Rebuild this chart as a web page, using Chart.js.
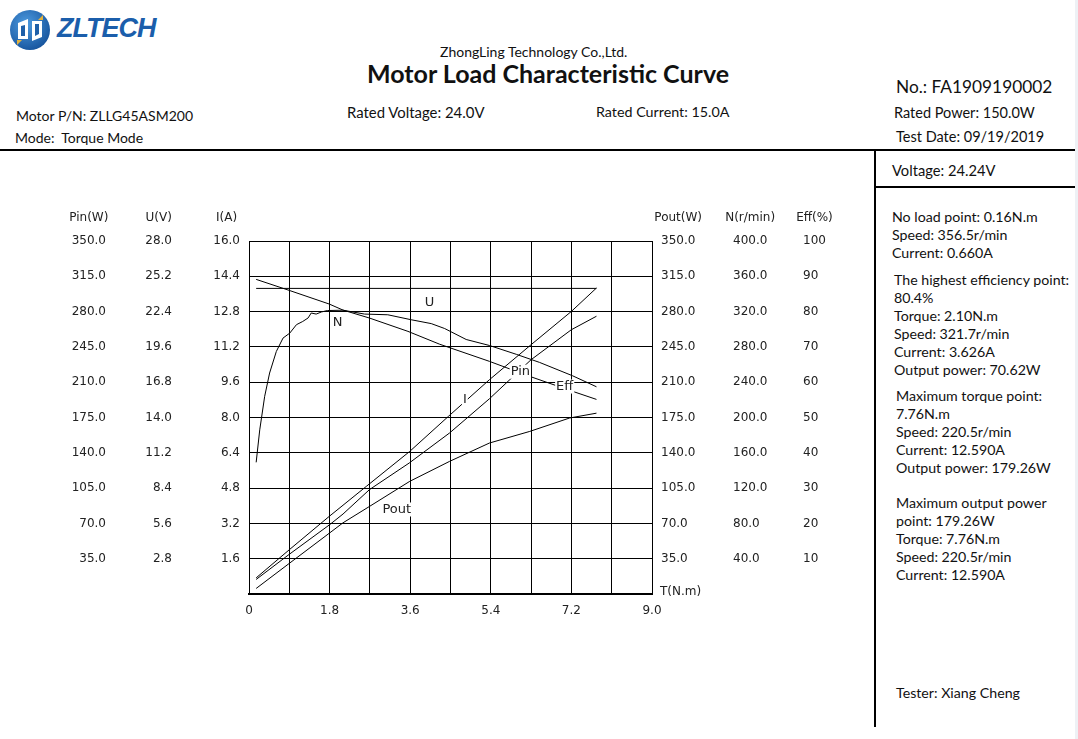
<!DOCTYPE html>
<html>
<head>
<meta charset="utf-8">
<script src="https://cdn.jsdelivr.net/npm/chart.js@4.4.1/dist/chart.umd.min.js"></script>
<style>
  html, body { margin: 0; padding: 0; background: #fff; }
  body { width: 1078px; height: 739px; position: relative; overflow: hidden; font-family: "Lato", "Open Sans", sans-serif; color: #111; }
  .t { position: absolute; white-space: pre; line-height: 18px; font-size: 14.5px; }
  .p { position: absolute; white-space: pre; line-height: 18px; font-size: 14.2px; }
  .rule { position: absolute; background: #000; }
  #chartBox { position: absolute; left: 0; top: 191px; width: 860px; height: 440px; }
</style>
</head>
<body>
<svg style="position:absolute;left:9px;top:9px" width="42" height="42" viewBox="0 0 42 42">
  <defs>
    <radialGradient id="lg" cx="40%" cy="35%" r="70%">
      <stop offset="0" stop-color="#4d9be0"/>
      <stop offset="1" stop-color="#16539c"/>
    </radialGradient>
  </defs>
  <circle cx="21" cy="21" r="20" fill="url(#lg)"/>
  <path d="M9 14 L19 10 L19 30 L9 30 Z" fill="#fff"/>
  <path d="M23 12 L33 12 L33 28 L23 32 Z" fill="#fff"/>
  <path d="M12 17 L16 16 L16 27 L12 27 Z" fill="#1e5fa8"/>
  <path d="M26 15 L30 15 L30 25 L26 27 Z" fill="#1e5fa8"/>
  <path d="M8 31 L13 31 L8 36 Z" fill="#e3b23c"/>
  <path d="M34 11 L29 11 L34 6 Z" fill="#e3b23c"/>
</svg>
<div style="position:absolute;left:57px;top:12px;font:italic bold 27px 'Liberation Sans',Arial,sans-serif;letter-spacing:-1px;color:#1b5eab;line-height:32px">ZLTECH</div>

<div class="t" style="left:440px;top:43px;font-size:14px">ZhongLing Technology Co.,Ltd.</div>
<div class="t" style="left:367px;top:59px;font-size:25px;line-height:28px;font-weight:bold">Motor Load Characteristic Curve</div>
<div class="t" style="left:896px;top:76px;font-size:17.3px;line-height:22px">No.: FA1909190002</div>
<div class="t" style="left:16px;top:107px;font-size:14px">Motor P/N: ZLLG45ASM200</div>
<div class="t" style="left:15px;top:129px;font-size:14px">Mode:  Torque Mode</div>
<div class="t" style="left:347px;top:103px;font-size:14.9px">Rated Voltage: 24.0V</div>
<div class="t" style="left:596px;top:103px;font-size:14.3px">Rated Current: 15.0A</div>
<div class="t" style="left:894px;top:104px">Rated Power: 150.0W</div>
<div class="t" style="left:896px;top:128px">Test Date: 09/19/2019</div>

<div class="rule" style="left:0;top:149px;width:1078px;height:2px"></div>
<div class="rule" style="left:874px;top:150px;width:2px;height:577px"></div>
<div class="rule" style="left:875px;top:186px;width:200px;height:2px"></div>
<div style="position:absolute;left:1075px;top:0;width:3px;height:739px;background:#eef1f5"></div>

<div class="t" style="left:892px;top:161px;font-size:14.7px">Voltage: 24.24V</div>
<div class="p" style="left:892px;top:208px">No load point: 0.16N.m
Speed: 356.5r/min
Current: 0.660A</div>
<div class="p" style="left:894px;top:271px">The highest efficiency point:
80.4%
Torque: 2.10N.m
Speed: 321.7r/min
Current: 3.626A
Output power: 70.62W</div>
<div class="p" style="left:896px;top:387px">Maximum torque point:
7.76N.m
Speed: 220.5r/min
Current: 12.590A
Output power: 179.26W</div>
<div class="p" style="left:896px;top:494px">Maximum output power
point: 179.26W
Torque: 7.76N.m
Speed: 220.5r/min
Current: 12.590A</div>
<div class="p" style="left:896px;top:684px">Tester: Xiang Cheng</div>

<div id="chartBox"><canvas id="curveChart"></canvas></div>

<script>
// torque readings (N.m) and the measured curves, read from the test sheet
const effTorque = [0.16, 0.24, 0.35, 0.46, 0.61, 0.76, 0.91, 1.06, 1.20, 1.32, 1.39, 1.50, 1.62, 1.75, 2.10, 2.58, 3.10, 3.62, 4.07, 4.37, 4.85, 5.37, 5.97, 6.49, 7.23, 7.76];
const effValues = [37.3, 46.5, 56.0, 62.6, 68.7, 72.5, 73.9, 76.3, 77.2, 78.2, 79.6, 79.3, 79.9, 80.3, 80.4, 79.3, 79.1, 77.7, 76.6, 75.2, 72.1, 70.4, 67.9, 65.6, 61.8, 58.7];

const speedTorque = [0.16, 0.90, 1.79, 2.10, 2.69, 3.55, 4.26, 5.37, 6.27, 7.23, 7.76];
const speedValues = [356.5, 344.0, 328.6, 321.7, 312.7, 297.6, 283.0, 263.6, 246.6, 229.6, 220.5];

const pinTorque = [0.16, 0.90, 1.79, 2.62, 3.59, 4.45, 5.37, 6.30, 7.20, 7.76];
const pinValues = [16.0, 43.9, 76.9, 106.7, 141.4, 176.0, 212.5, 247.2, 280.2, 303.4];

const currentTorque = [0.16, 0.90, 1.80, 2.10, 2.69, 3.58, 4.48, 5.37, 6.30, 7.20, 7.76];
const currentValues = [0.66, 1.80, 3.14, 3.626, 4.73, 5.94, 7.30, 8.85, 10.62, 11.98, 12.59];

const poutTorque = [0.16, 0.91, 1.80, 2.10, 2.69, 3.59, 4.48, 5.37, 6.27, 7.16, 7.76];
const poutValues = [5.5, 30.7, 60.5, 70.6, 86.8, 111.7, 131.5, 149.7, 161.2, 174.5, 179.3];

const voltTorque = [0.16, 7.76];
const voltValues = [24.24, 24.24];

// axis ranges (10 divisions each)
const torqueMax = 9.0;
const pinMax = 350, voltMax = 28, currentMax = 16;
const poutMax = 350, speedMax = 400, effMax = 100;

// curve names written next to the lines (torque, value on the Pin scale)
const curveLabelText = ["U", "N", "Pin", "Eff", "I", "Pout"];
const curveLabelT = [4.03, 1.98, 6.06, 7.05, 4.82, 3.30];
const curveLabelPin = [288.8, 269.0, 220.4, 205.7, 192.7, 83.8];

const axisTitles = { pin: "Pin(W)", u: "U(V)", i: "I(A)", pout: "Pout(W)", n: "N(r/min)", eff: "Eff(%)" };

const tickFont = { family: "DejaVu Sans", size: 12 };
const ink = "#222";

function pairs(xs, ys) {
  return xs.map((x, i) => ({ x: x, y: ys[i] }));
}

function curve(xs, ys, axis) {
  return {
    data: pairs(xs, ys),
    yAxisID: axis,
    borderColor: "#000",
    borderWidth: 1,
    pointRadius: 0,
    tension: 0,
    fill: false,
  };
}

function yAxis(pos, max, width, pad, decimals, withGrid) {
  return {
    type: "linear",
    position: pos,
    min: 0,
    max: max,
    grid: { display: withGrid, color: "#000", lineWidth: 1, drawTicks: false },
    border: { display: withGrid, color: "#000", width: 1 },
    ticks: {
      stepSize: max / 10,
      padding: pad,
      color: ink,
      font: tickFont,
      callback: (v) => (v === 0 ? "" : Number(v).toFixed(decimals)),
    },
    afterFit: (s) => { s.width = width; },
  };
}

const headerPlugin = {
  id: "headers",
  afterDraw(chart) {
    const c = chart.ctx;
    const area = chart.chartArea;
    c.save();
    c.fillStyle = ink;
    c.font = "12px 'DejaVu Sans'";
    c.textBaseline = "middle";
    c.textAlign = "center";
    const titleY = area.top - 23;
    ["pin", "u", "i", "pout", "n", "eff"].forEach((id) => {
      const s = chart.scales[id];
      const pad = s.options.ticks.padding;
      const sample = s.options.ticks.callback(s.max);
      const w = c.measureText(sample).width;
      const cx = s.position === "left" ? s.right - pad - w / 2 : s.left + pad + w / 2;
      c.fillText(axisTitles[id], cx, titleY);
    });
    c.textAlign = "left";
    c.fillText("T(N.m)", area.right + 8, area.bottom - 2);

    c.textAlign = "center";
    c.font = "13px 'DejaVu Sans'";
    const xs = chart.scales.x, ps = chart.scales.pin;
    curveLabelText.forEach((txt, i) => {
      const px = xs.getPixelForValue(curveLabelT[i]);
      const py = ps.getPixelForValue(curveLabelPin[i]);
      c.fillStyle = "#fff";
      const w = c.measureText(txt).width;
      c.fillRect(px - w / 2 - 1, py - 7, w + 2, 14);
      c.fillStyle = ink;
      c.fillText(txt, px, py);
    });
    c.restore();
  },
};

const ctx = document.getElementById("curveChart").getContext("2d");

const curveChart = new Chart(ctx, {
  type: "line",
  data: {
    datasets: [
      curve(voltTorque, voltValues, "u"),
      curve(speedTorque, speedValues, "n"),
      curve(effTorque, effValues, "eff"),
      curve(pinTorque, pinValues, "pin"),
      curve(currentTorque, currentValues, "i"),
      curve(poutTorque, poutValues, "pout"),
    ],
  },
  options: {
    responsive: true,
    maintainAspectRatio: false,
    animation: false,
    layout: { padding: { top: 50, left: 0, right: 0, bottom: 0 } },
    plugins: { legend: { display: false }, tooltip: { enabled: false } },
    scales: {
      x: {
        type: "linear",
        min: 0,
        max: torqueMax,
        grid: { color: "#000", lineWidth: 1, drawTicks: false },
        border: { color: "#000", width: 2 },
        ticks: {
          stepSize: torqueMax / 10,
          autoSkip: false,
          maxRotation: 0,
          padding: 10,
          color: ink,
          font: tickFont,
          callback: (v, i) => (i % 2 !== 0 ? "" : v === 0 ? "0" : Number(v).toFixed(1)),
        },
        afterFit: (s) => { s.height = 37; },
      },
      i: yAxis("left", currentMax, 69, 9, 1, true),
      u: yAxis("left", voltMax, 68, 8, 1, false),
      pin: yAxis("left", pinMax, 112, 6, 1, false),
      pout: Object.assign(yAxis("right", poutMax, 73, 9, 1, false), {
        border: { display: true, color: "#000", width: 1 },
      }),
      n: yAxis("right", speedMax, 70, 8, 1, false),
      eff: yAxis("right", effMax, 65, 8, 0, false),
    },
  },
  plugins: [headerPlugin],
});
</script>
</body>
</html>
